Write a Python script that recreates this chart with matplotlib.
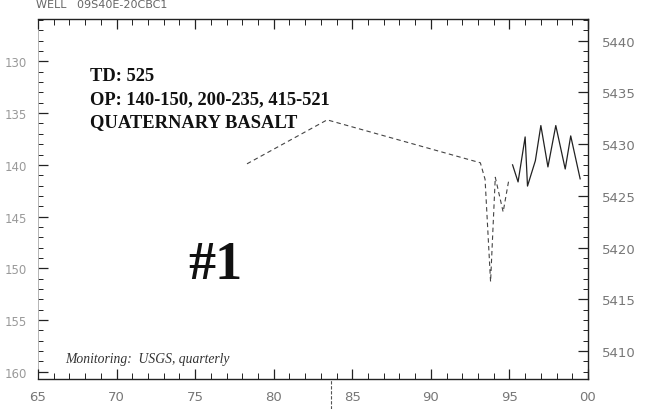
import matplotlib
matplotlib.use("Agg")
import matplotlib.pyplot as plt
from matplotlib.ticker import MultipleLocator
from matplotlib.lines import Line2D

# --- Water-level record (feet above sea level) ---
years_early = [1978.3, 1983.4, 1993.15, 1993.45, 1993.8, 1994.1, 1994.6, 1994.95]
level_early = [5428.1, 5432.35, 5428.2, 5426.6, 5416.7, 5426.8, 5423.45, 5426.45]

years_recent = [1995.2, 1995.55, 1996.0, 1996.15, 1996.65, 1997.0,
                1997.45, 1997.95, 1998.55, 1998.9, 1999.5]
level_recent = [5428.0, 5426.35, 5430.7, 5425.95, 5428.4, 5431.8,
                5427.8, 5431.8, 5427.6, 5430.8, 5426.65]

x_ticks = [1965, 1970, 1975, 1980, 1985, 1990, 1995, 2000]
x_labels = ["65", "70", "75", "80", "85", "90", "95", "00"]
elev_ticks = [5410, 5415, 5420, 5425, 5430, 5435, 5440]
depth_ticks = [130, 135, 140, 145, 150, 155, 160]

LAND_SURFACE = 5568.0
ELEV_MIN, ELEV_MAX = 5407.3, 5442.1

INK = "#222222"
LABEL = "#777777"
W, H = 646, 410


def fx(px):
    return px / W


def fy(py):
    return 1 - py / H


fig = plt.figure(figsize=(W / 100, H / 100), dpi=100)
ax = fig.add_axes([fx(38), fy(380), 550 / W, 360 / H])

ax.plot(years_early, level_early, color="#444444", lw=0.8,
        linestyle=(0, (4, 3)))
ax.plot(years_recent, level_recent, color=INK, lw=0.9)

ax.set_xlim(1965, 2000)
ax.set_ylim(ELEV_MIN, ELEV_MAX)

# right axis carries elevation, left axis depth below land surface
ax.yaxis.tick_right()
ax.set_yticks(elev_ticks)
ax.yaxis.set_minor_locator(MultipleLocator(1))
ax.set_xticks(x_ticks)
ax.set_xticklabels(x_labels)
ax.xaxis.set_minor_locator(MultipleLocator(1))

ax.tick_params(axis="x", which="both", direction="in", top=True, bottom=True,
               colors=INK, labelcolor=LABEL, labelsize=9.5, pad=8)
ax.tick_params(axis="x", which="major", length=7, width=0.9)
ax.tick_params(axis="x", which="minor", length=4, width=0.7)
ax.tick_params(axis="y", which="both", direction="in", colors=INK,
               labelcolor=LABEL, labelsize=9.5, pad=10)
ax.tick_params(axis="y", which="major", length=7, width=0.9)
ax.tick_params(axis="y", which="minor", length=3.5, width=0.7)

depth = ax.secondary_yaxis("left", functions=(lambda e: LAND_SURFACE - e,
                                              lambda d: LAND_SURFACE - d))
depth.set_yticks(depth_ticks)
depth.yaxis.set_minor_locator(MultipleLocator(1))
depth.tick_params(which="both", direction="in", colors=INK,
                  labelcolor="#999999", labelsize=8.5, pad=8)
depth.tick_params(which="major", length=7, width=0.9)
depth.tick_params(which="minor", length=3.5, width=0.7)
depth.spines["left"].set_color("#aaaaaa")
depth.spines["left"].set_linewidth(0.6)

for side in ("top", "bottom", "right"):
    ax.spines[side].set_color(INK)
    ax.spines[side].set_linewidth(1.0)
ax.spines["left"].set_visible(False)

serif = ["Liberation Serif", "DejaVu Serif"]
bold = dict(fontsize=13.3, fontweight="bold", family=serif, color="#111111")
fig.text(fx(90), fy(81), "TD: 525", **bold)
fig.text(fx(90), fy(104), "OP: 140-150, 200-235, 415-521", **bold)
fig.text(fx(90), fy(127), "QUATERNARY BASALT", **bold)
fig.text(fx(188), fy(279), "#1", fontsize=39, fontweight="bold",
         family=serif, color="#111111")
fig.text(fx(65), fy(363), "Monitoring:  USGS, quarterly",
         fontsize=9.8, fontstyle="italic", family=serif, color="#333333")
fig.text(fx(36), fy(8), "WELL   09S40E-20CBC1", fontsize=8,
         color="#666666")

# pencil mark below the axis near 1983
fig.add_artist(Line2D([fx(331), fx(331)], [0, 30 / H], color="#555555",
                      lw=0.8, linestyle=(0, (3, 1.5))))

fig.savefig("out.png", dpi=100)
